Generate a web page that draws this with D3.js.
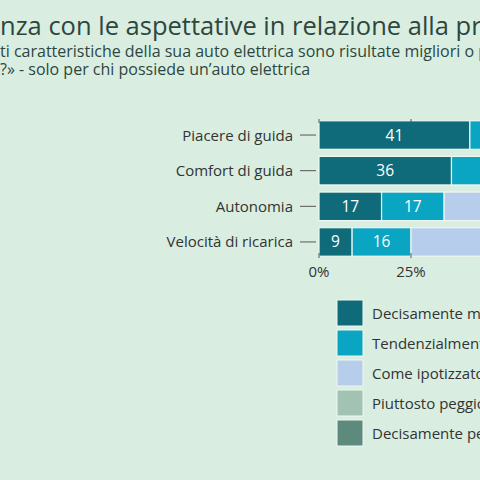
<!DOCTYPE html><html><head><meta charset="utf-8">
<script src="https://cdn.jsdelivr.net/npm/d3@7"></script>
<style>body{margin:0;background:#d9eee0;overflow:hidden}svg{display:block}</style></head><body>
<script>
const categories=["Piacere di guida","Comfort di guida","Autonomia","Velocità di ricarica"];
const seriesNames=["Decisamente migliori","Tendenzialmente migliori","Come ipotizzato","Piuttosto peggiori","Decisamente peggiori"];
const s1=[41,36,17,9];
const s2=[30,32,17,16];
const s3=[25,28,45,45];
const s4=[3,3,15,20];
const s5=[1,1,6,10];
const colors=["#0f6b7a","#0aa5c2","#b7cdec","#a2c2b3","#5e8a7e"];
const tickVals=[0,25,50,75,100];
const title="Coerenza con le aspettative in relazione alla propria auto elettrica";
const sub1="«Quali delle seguenti caratteristiche della sua auto elettrica sono risultate migliori o peggiori delle aspettative";
const sub2="peggiori di quanto si aspettava?» - solo per chi possiede un’auto elettrica";

const font="'Open Sans', sans-serif";
const svg=d3.select("body").append("svg").attr("width",480).attr("height",480).style("font-family",font);
svg.append("rect").attr("width",480).attr("height",480).attr("fill","#d9eee0");
function cropText(full,visStart,y,size){
  const idx=full.indexOf(visStart);
  const t=svg.append("text").attr("y",y).attr("font-size",size).attr("fill","#2e4640").text(full.slice(0,idx));
  const w=t.node().getComputedTextLength();
  t.text(full).attr("x",-w);
}
cropText(title,"nza con",35,25.5);
cropText(sub1,"ti caratt",57,16);
cropText(sub2,"?» - solo",75,16);

const x=d3.scaleLinear().domain([0,100]).range([319,687]);
const y=d3.scaleBand().domain(categories).range([119,258]).paddingInner(0.2).paddingOuter(0.05);
const series=[s1,s2,s3,s4,s5];
const g=svg.append("g");
categories.forEach((c,i)=>{
  let acc=0;
  series.forEach((s,k)=>{
    const v=s[i];
    g.append("rect").attr("x",x(acc)).attr("y",y(c)).attr("width",x(acc+v)-x(acc)).attr("height",y.bandwidth())
     .attr("fill",colors[k]).attr("stroke","#eef7f1").attr("stroke-width",1.2);
    if(v>=5&&k<3) g.append("text").attr("x",(x(acc)+x(acc+v))/2).attr("y",y(c)+y.bandwidth()/2+5.5)
      .attr("text-anchor","middle").attr("font-size",15.5).attr("fill",k==2?"#333":"#fff").text(v);
    acc+=v;
  });
  svg.append("line").attr("x1",300).attr("x2",316).attr("y1",y(c)+y.bandwidth()/2).attr("y2",y(c)+y.bandwidth()/2).attr("stroke","#555");
  svg.append("text").attr("x",293).attr("y",y(c)+y.bandwidth()/2+5.5).attr("text-anchor","end").attr("font-size",15).attr("fill","#333").text(c);
});
tickVals.forEach(t=>{
  svg.append("line").attr("x1",x(t)).attr("x2",x(t)).attr("y1",253).attr("y2",258).attr("stroke","#555");
  svg.append("line").attr("x1",x(t)).attr("x2",x(t)).attr("y1",119).attr("y2",123).attr("stroke","#555");
  svg.append("text").attr("x",x(t)).attr("y",277).attr("text-anchor","middle").attr("font-size",15).attr("fill","#333").text(t+"%");
});
seriesNames.forEach((n,k)=>{
  const yy=300+k*30;
  svg.append("rect").attr("x",337).attr("y",yy).attr("width",26).attr("height",26).attr("fill",colors[k]).attr("stroke","#eef7f1");
  svg.append("text").attr("x",372).attr("y",yy+18.5).attr("font-size",15).attr("fill","#333").text(n);
});
</script></body></html>
